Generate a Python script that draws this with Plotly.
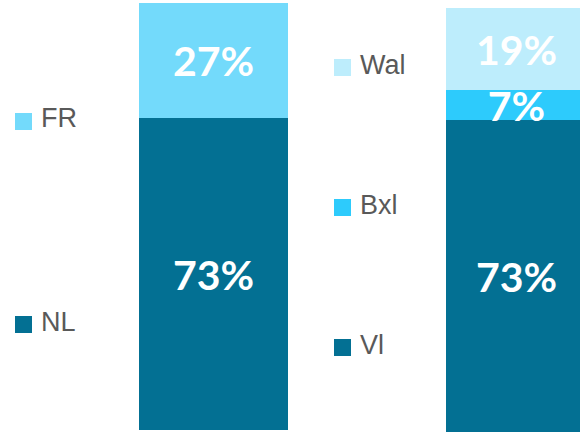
import plotly.graph_objects as go

W, H = 580, 432

# Data
left_series = ["NL", "FR"]
left_values = [73, 27]
left_colors = ["#037093", "#73DAFB"]

right_series = ["Vl", "Bxl", "Wal"]
right_values = [73, 7, 19]
right_colors = ["#037093", "#2DCBFC", "#BDEDFC"]

category = ["Taal"]

fig = go.Figure()

LABEL_FONT = dict(family="Lato, DejaVu Sans, sans-serif", size=41, color="white",
                  weight="bold")

for name, val, col in zip(left_series, left_values, left_colors):
    fig.add_trace(go.Bar(
        x=category, y=[val], name=name, marker=dict(color=col, line=dict(width=0)),
        text=[f"{val}%"], textposition="inside", insidetextanchor="middle",
        textangle=0, textfont=LABEL_FONT, width=1,
        xaxis="x", yaxis="y", showlegend=False, hoverinfo="skip",
    ))

for name, val, col in zip(right_series, right_values, right_colors):
    fig.add_trace(go.Bar(
        x=category, y=[val], name=name, marker=dict(color=col, line=dict(width=0)),
        text=[f"{val}%"], textposition="inside", insidetextanchor="middle",
        textangle=0, textfont=LABEL_FONT, width=1,
        xaxis="x2", yaxis="y2", showlegend=False, hoverinfo="skip",
    ))

def px(x):
    return x / W

def py(y):
    return 1 - y / H

axis_common = dict(showgrid=False, zeroline=False, showticklabels=False,
                   showline=False, ticks="", fixedrange=True)

fig.update_layout(
    width=W, height=H,
    margin=dict(l=0, r=0, t=0, b=0),
    paper_bgcolor="white", plot_bgcolor="rgba(0,0,0,0)",
    barmode="stack", bargap=0,
    uniformtext=dict(minsize=41, mode="show"),
    xaxis=dict(domain=[px(139), px(288)], range=[-0.5, 0.5], anchor="y", **axis_common),
    yaxis=dict(domain=[py(430), py(3)], range=[0, 100], anchor="x", **axis_common),
    xaxis2=dict(domain=[px(446), 1], range=[-0.5, 0.45], anchor="y2", **axis_common),
    yaxis2=dict(domain=[0, py(4)], range=[0, 100], anchor="x2", **axis_common),
)

# Legend-like labels: (text, colour, left x, square centre y, text centre y)
legend_items = [
    ("FR", left_colors[1], 15, 121.5, 119.5),
    ("NL", left_colors[0], 15, 324.5, 323.5),
    ("Wal", right_colors[2], 334, 67.5, 67),
    ("Bxl", right_colors[1], 334, 207.5, 206.5),
    ("Vl", right_colors[0], 334, 347.5, 346.5),
]
for text, col, x0, yc, ty in legend_items:
    fig.add_shape(type="rect", xref="paper", yref="paper",
                  x0=px(x0), x1=px(x0 + 17), y0=py(yc + 8.5), y1=py(yc - 8.5),
                  fillcolor=col, line=dict(width=0))
    fig.add_annotation(text=text, xref="paper", yref="paper",
                       x=px(x0 + 24), y=py(ty - 1.5), xanchor="left", yanchor="middle",
                       showarrow=False,
                       font=dict(family="Liberation Sans, Arial, sans-serif",
                                 size=27, color="#595959"))

fig.write_html("out.html", config={"displayModeBar": False},
               post_script="document.body.style.margin='0';document.body.style.overflow='hidden';")
